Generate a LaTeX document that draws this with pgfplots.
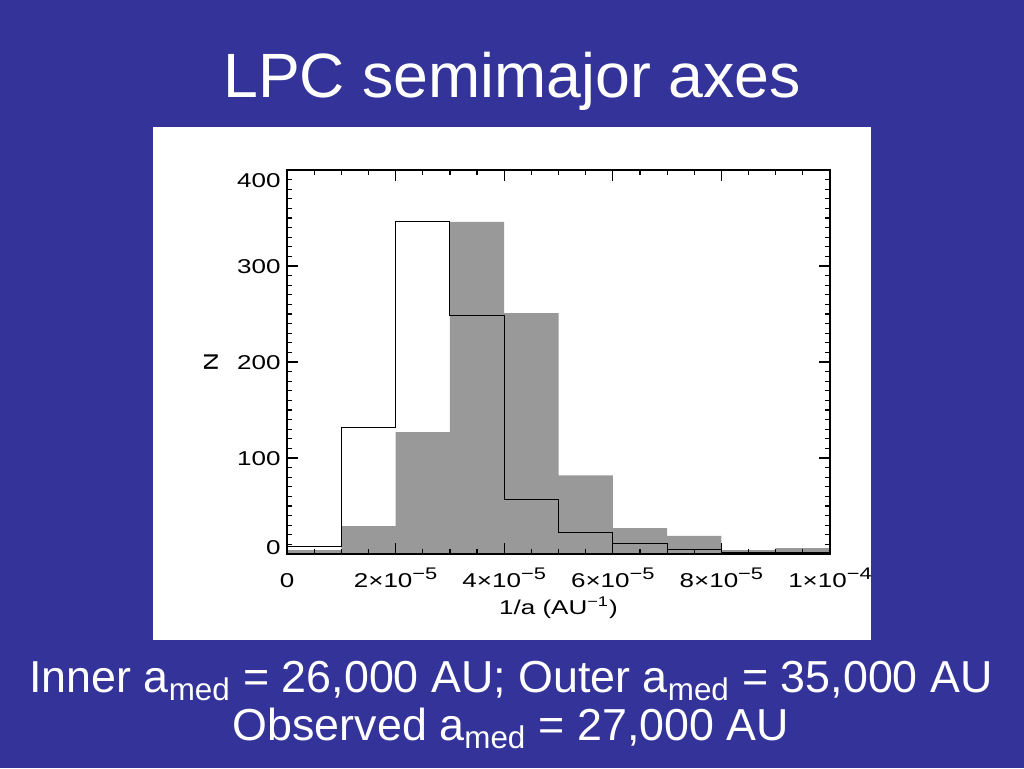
\documentclass[border=0pt]{standalone}
\usepackage{fontspec}
\setmainfont{Liberation Sans}
\newfontfamily\idl{Liberation Sans}[FakeStretch=1.3]
\usepackage{pgfplots}
\pgfplotsset{compat=1.18}
\definecolor{slideblue}{RGB}{51,51,153}
\definecolor{histgray}{RGB}{153,153,153}
\newcommand\ex[1]{\raisebox{4pt}{\fontsize{8.4}{9}\selectfont #1}}
\begin{document}
\begin{tikzpicture}[x=0.5pt,y=0.5pt]
\fill[slideblue] (0,0) rectangle (1024,768);
\fill[white] (153,128) rectangle (871,641);
\node[anchor=base, text=white, inner sep=0pt, font=\fontsize{31.3}{38}\selectfont] at (512,670) {LPC semimajor axes};
\node[anchor=base, text=white, inner sep=0pt, font=\fontsize{22.4}{28}\selectfont] at (511,76) {Inner a\textsubscript{med} = 26,000 AU; Outer a\textsubscript{med} = 35,000 AU};
\node[anchor=base, text=white, inner sep=0pt, font=\fontsize{22.4}{28}\selectfont] at (511,28) {Observed a\textsubscript{med} = 27,000 AU};
\begin{axis}[
  at={(143.5pt,107pt)}, anchor=south west,
  scale only axis, width=271.5pt, height=192pt,
  xmin=0, xmax=10, ymin=0, ymax=400,
  axis on top,
  axis line style={line width=0.7pt},
  tick align=inside,
  tick style={black, line width=0.6pt},
  major tick length=5.5pt, minor tick length=2.5pt,
  xtick={0,2,4,6,8,10},
  xticklabels={0, 2×10\ex{−5}, 4×10\ex{−5}, 6×10\ex{−5}, 8×10\ex{−5}, 1×10\ex{−4}},
  minor x tick num=3,
  ytick={0,100,200,300,400},
  yticklabels={\raisebox{3.6pt}{0},100,200,300,\raisebox{-4.9pt}{400}},
  minor y tick num=9,
  ticklabel style={font=\idl\fontsize{10}{12}\selectfont, inner sep=0pt},
  xticklabel style={anchor=base, yshift=-16.5pt},
  yticklabel style={anchor=base east, yshift=-3.6pt, xshift=-3pt},
  xlabel={1/a (AU\textsuperscript{−1})},
  ylabel={N},
  label style={font=\idl\fontsize{10}{12}\selectfont, inner sep=0pt},
  xlabel style={at={(axis description cs:0.5,-0.15625)}, anchor=base},
  ylabel style={at={(axis description cs:-0.1271,0.5)}, anchor=base, rotate=0},
]
\addplot[const plot, fill=histgray, draw=none] coordinates {
(0,4) (1,29) (2,127) (3,346) (4,251) (5,82) (6,27) (7,19) (8,4) (9,6) (10,6)
} \closedcycle;
\addplot[const plot, black, line width=0.55pt] coordinates {
(0,8) (1,132) (2,346) (3,248) (4,57) (5,22) (6,11) (7,5) (8,2) (9,2) (10,2)
};
\end{axis}
\end{tikzpicture}
\end{document}
